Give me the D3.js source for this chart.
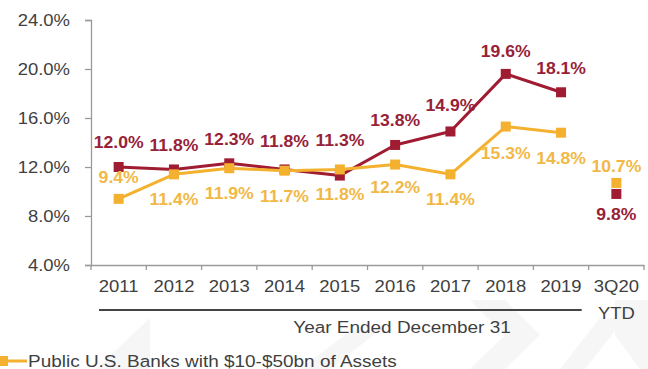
<!DOCTYPE html>
<html>
<head>
<meta charset="utf-8">
<script src="https://cdn.jsdelivr.net/npm/d3@7"></script>
<style>
  html, body { margin: 0; padding: 0; background: #fff; }
  svg { display: block; }
  text { font-family: "Liberation Sans", Arial, sans-serif; }
</style>
</head>
<body>
<svg id="chart" width="648" height="369"></svg>
<script>
// Return on equity by year, company vs. peer group
const categories = ["2011", "2012", "2013", "2014", "2015", "2016", "2017", "2018", "2019", "3Q20"];
const companyRoe = [12.0, 11.8, 12.3, 11.8, 11.3, 13.8, 14.9, 19.6, 18.1, 9.8];
const peerRoe = [9.4, 11.4, 11.9, 11.7, 11.8, 12.2, 11.4, 15.3, 14.8, 10.7];
const yTickValues = [4, 8, 12, 16, 20, 24];
const periodNote = "YTD";
const xTitle = "Year Ended December 31";
const legendLabel = "Public U.S. Banks with $10-$50bn of Assets";

// Vertical placement of each value label relative to its marker (px, negative = above)
const companyLabelDy = [-25, -24, -24, -28, -36, -25, -26, -23, -24, 20];
const peerLabelDy = [-22, 25, 25, 25, 25, 22, 25, 26, 25, -17];

const RED = "#a01c32";
const GOLD = "#f4b12f";
const RED_TEXT = "#972238";
const GOLD_TEXT = "#f1b845";
const AXIS = "#9a9a9a";
const INK = "#3f3f3f";
const SX = 1.12;          // horizontal stretch used by the deck's typography
const lastAnnual = 9;     // 3Q20 YTD point stands apart from the annual line

const svg = d3.select("#chart");

// faint background ornament in the lower band
const deco = svg.append("g").attr("fill", "#f6f6f6");
[
  [[96, 369], [150, 318], [150, 369]],
  [[300, 369], [352, 330], [380, 330], [330, 369]],
  [[470, 300], [505, 300], [540, 335], [505, 369], [470, 369], [505, 335]],
  [[560, 369], [600, 318], [625, 318], [585, 369]],
  [[615, 300], [648, 300], [648, 369], [640, 369], [615, 335]]
].forEach(p => deco.append("polygon").attr("points", p.map(q => q.join(",")).join(" ")));

const x = d3.scaleBand().domain(categories).range([91, 644]).padding(0);
const y = d3.scaleLinear().domain([4, 24]).range([265, 20]);
const cx = c => x(c) + x.bandwidth() / 2;

// y axis
const yAxis = svg.append("g")
  .attr("transform", "translate(91,0)")
  .call(d3.axisLeft(y).tickValues(yTickValues).tickSize(6)
    .tickFormat(d => d.toFixed(1) + "%"));
yAxis.select(".domain").attr("stroke", AXIS).attr("stroke-width", 1.3);
yAxis.selectAll(".tick line").attr("stroke", AXIS).attr("stroke-width", 1.3);
yAxis.selectAll(".tick text")
  .attr("x", null)
  .attr("transform", `translate(-21,0) scale(${SX},1)`)
  .attr("font-family", "Liberation Sans, Arial, sans-serif")
  .attr("font-size", 16.5)
  .attr("fill", INK);

// x axis (labels centred in bands, ticks on band edges)
const xAxis = svg.append("g")
  .attr("transform", "translate(0,265)")
  .call(d3.axisBottom(x).tickSize(0).tickSizeOuter(0));
xAxis.select(".domain").attr("stroke", AXIS).attr("stroke-width", 1.3);
xAxis.selectAll(".tick text")
  .attr("y", null).attr("dy", null)
  .attr("transform", `translate(0,27) scale(${SX},1)`)
  .attr("font-family", "Liberation Sans, Arial, sans-serif")
  .attr("font-size", 16.5)
  .attr("fill", INK);
const edges = categories.map(c => x(c)).concat([x.range()[1]]);
xAxis.selectAll(".edge").data(edges).join("line")
  .attr("class", "edge")
  .attr("x1", d => d).attr("x2", d => d)
  .attr("y1", 0).attr("y2", 5)
  .attr("stroke", AXIS).attr("stroke-width", 1.3);

// "YTD" under the last category
svg.append("text")
  .attr("transform", `translate(${cx(categories[lastAnnual])},319) scale(${SX},1)`)
  .attr("text-anchor", "middle")
  .attr("font-size", 16.5).attr("fill", INK)
  .text(periodNote);

// bracket rule over the annual years and its title
svg.append("line")
  .attr("x1", x(categories[0]) + 8).attr("x2", x(categories[lastAnnual - 1]) + x.bandwidth() - 7)
  .attr("y1", 310).attr("y2", 310)
  .attr("stroke", "#454545").attr("stroke-width", 2);
svg.append("text")
  .attr("transform", `translate(402,333) scale(1.15,1)`)
  .attr("text-anchor", "middle")
  .attr("font-size", 16.5).attr("fill", INK)
  .text(xTitle);

// series
const line = d3.line().x((d, i) => cx(categories[i])).y(d => y(d));

function drawSeries(values, color) {
  svg.append("path")
    .attr("d", line(values.slice(0, lastAnnual)))
    .attr("fill", "none")
    .attr("stroke", color)
    .attr("stroke-width", 3)
    .attr("stroke-linejoin", "round");
  svg.append("g").selectAll("rect").data(values).join("rect")
    .attr("x", (d, i) => cx(categories[i]) - 5)
    .attr("y", d => y(d) - 5)
    .attr("width", 10).attr("height", 10)
    .attr("fill", color);
}
drawSeries(companyRoe, RED);
drawSeries(peerRoe, GOLD);

function drawLabels(values, offsets, color) {
  svg.append("g").selectAll("text").data(values).join("text")
    .attr("transform", (d, i) =>
      `translate(${cx(categories[i])},${y(d) + offsets[i] + 6}) scale(1.1,1)`)
    .attr("text-anchor", "middle")
    .attr("font-size", 16)
    .attr("font-weight", "bold")
    .attr("fill", color)
    .text(d => d.toFixed(1) + "%");
}
drawLabels(companyRoe, companyLabelDy, RED_TEXT);
drawLabels(peerRoe, peerLabelDy, GOLD_TEXT);

// legend
const legend = svg.append("g").attr("transform", "translate(0,361)");
legend.append("line").attr("x1", -2).attr("x2", 27).attr("y1", 0).attr("y2", 0)
  .attr("stroke", GOLD).attr("stroke-width", 3);
legend.append("rect").attr("x", -2).attr("y", -5).attr("width", 10).attr("height", 10)
  .attr("fill", GOLD);
legend.append("text")
  .attr("transform", `translate(28,5.5) scale(1.15,1)`)
  .attr("font-size", 16.5).attr("fill", INK)
  .text(legendLabel);
</script>
</body>
</html>
